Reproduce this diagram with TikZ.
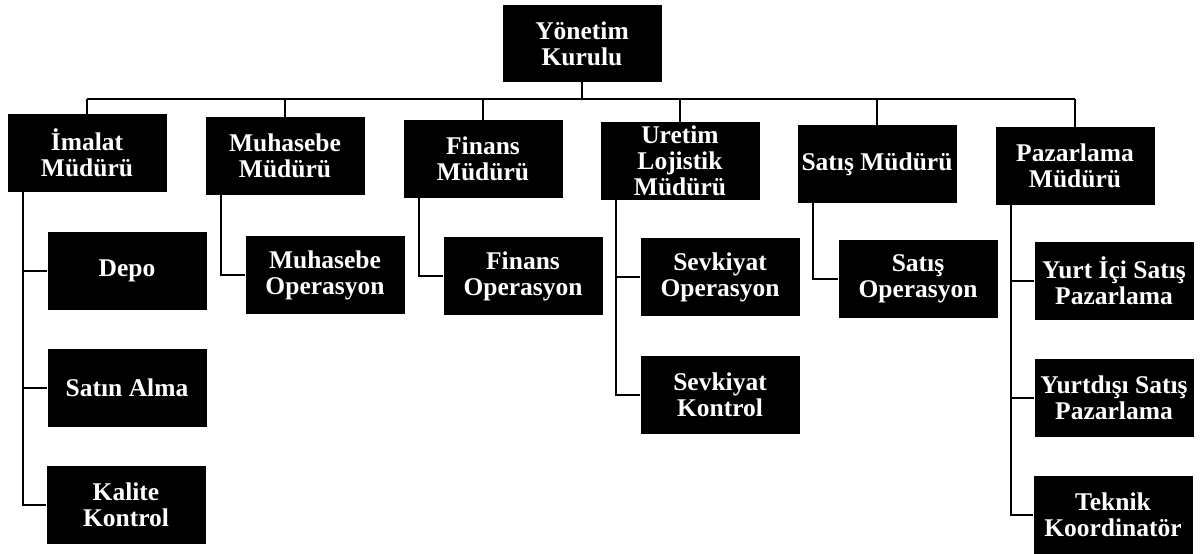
\documentclass[tikz,border=0pt]{standalone}
\usepackage{fontspec}
\setmainfont{Liberation Serif}
\begin{document}
\begin{tikzpicture}[x=1pt,y=-1pt,
  box/.style={fill=black,text=white,inner sep=0pt,align=center,
    minimum width=159pt,minimum height=78pt,
    font=\bfseries\fontsize{25.5}{26}\selectfont},
  link/.style={draw=black,line width=2.8pt}]
\useasboundingbox (0,0) rectangle (1200,554);
% top
\node[box,minimum height=77pt] (yk) at (582,43.5) {Yönetim\\Kurulu};
% level 1
\node[box] (imalat) at (87,153) {İmalat\\Müdürü};
\node[box] (muh) at (285,156) {Muhasebe\\Müdürü};
\node[box] (fin) at (483,159) {Finans\\Müdürü};
\node[box] (ure) at (680,161) {Uretim\\Lojistik\\Müdürü};
\node[box] (sat) at (877,164) {Satış Müdürü};
\node[box] (paz) at (1075,166) {Pazarlama\\Müdürü};
% level 2
\node[box] (depo) at (127,271) {Depo};
\node[box] (satin) at (127,388) {Satın Alma};
\node[box] (kal) at (126,505) {Kalite\\Kontrol};
\node[box] (mop) at (325,275) {Muhasebe\\Operasyon};
\node[box] (fop) at (523,276) {Finans\\Operasyon};
\node[box] (sop) at (720,277) {Sevkiyat\\Operasyon};
\node[box] (skon) at (720,395) {Sevkiyat\\Kontrol};
\node[box] (satop) at (918,279) {Satış\\Operasyon};
\node[box] (yic) at (1114,281) {Yurt İçi Satış\\Pazarlama};
\node[box] (ydi) at (1114,398) {Yurtdışı Satış\\Pazarlama};
\node[box] (tek) at (1113,515) {Teknik\\Koordinatör};
% bus
\coordinate (bus) at (582,99);
\draw[link] (yk.south) -- (bus);
\draw[link] (bus -| imalat.north) -- (bus -| paz.north);
\foreach \n in {imalat,muh,fin,ure,sat,paz}
  \draw[link] (bus -| \n.north) -- (\n.north);
% sub-connectors
\foreach \p/\kids in {imalat/{depo,satin,kal},muh/{mop},fin/{fop},ure/{sop,skon},sat/{satop},paz/{yic,ydi,tek}}{
  \coordinate (v) at ([xshift=-64pt]\p.south);
  \foreach \k in \kids
    \draw[link] (v) |- (\k.west);
}
\end{tikzpicture}
\end{document}
